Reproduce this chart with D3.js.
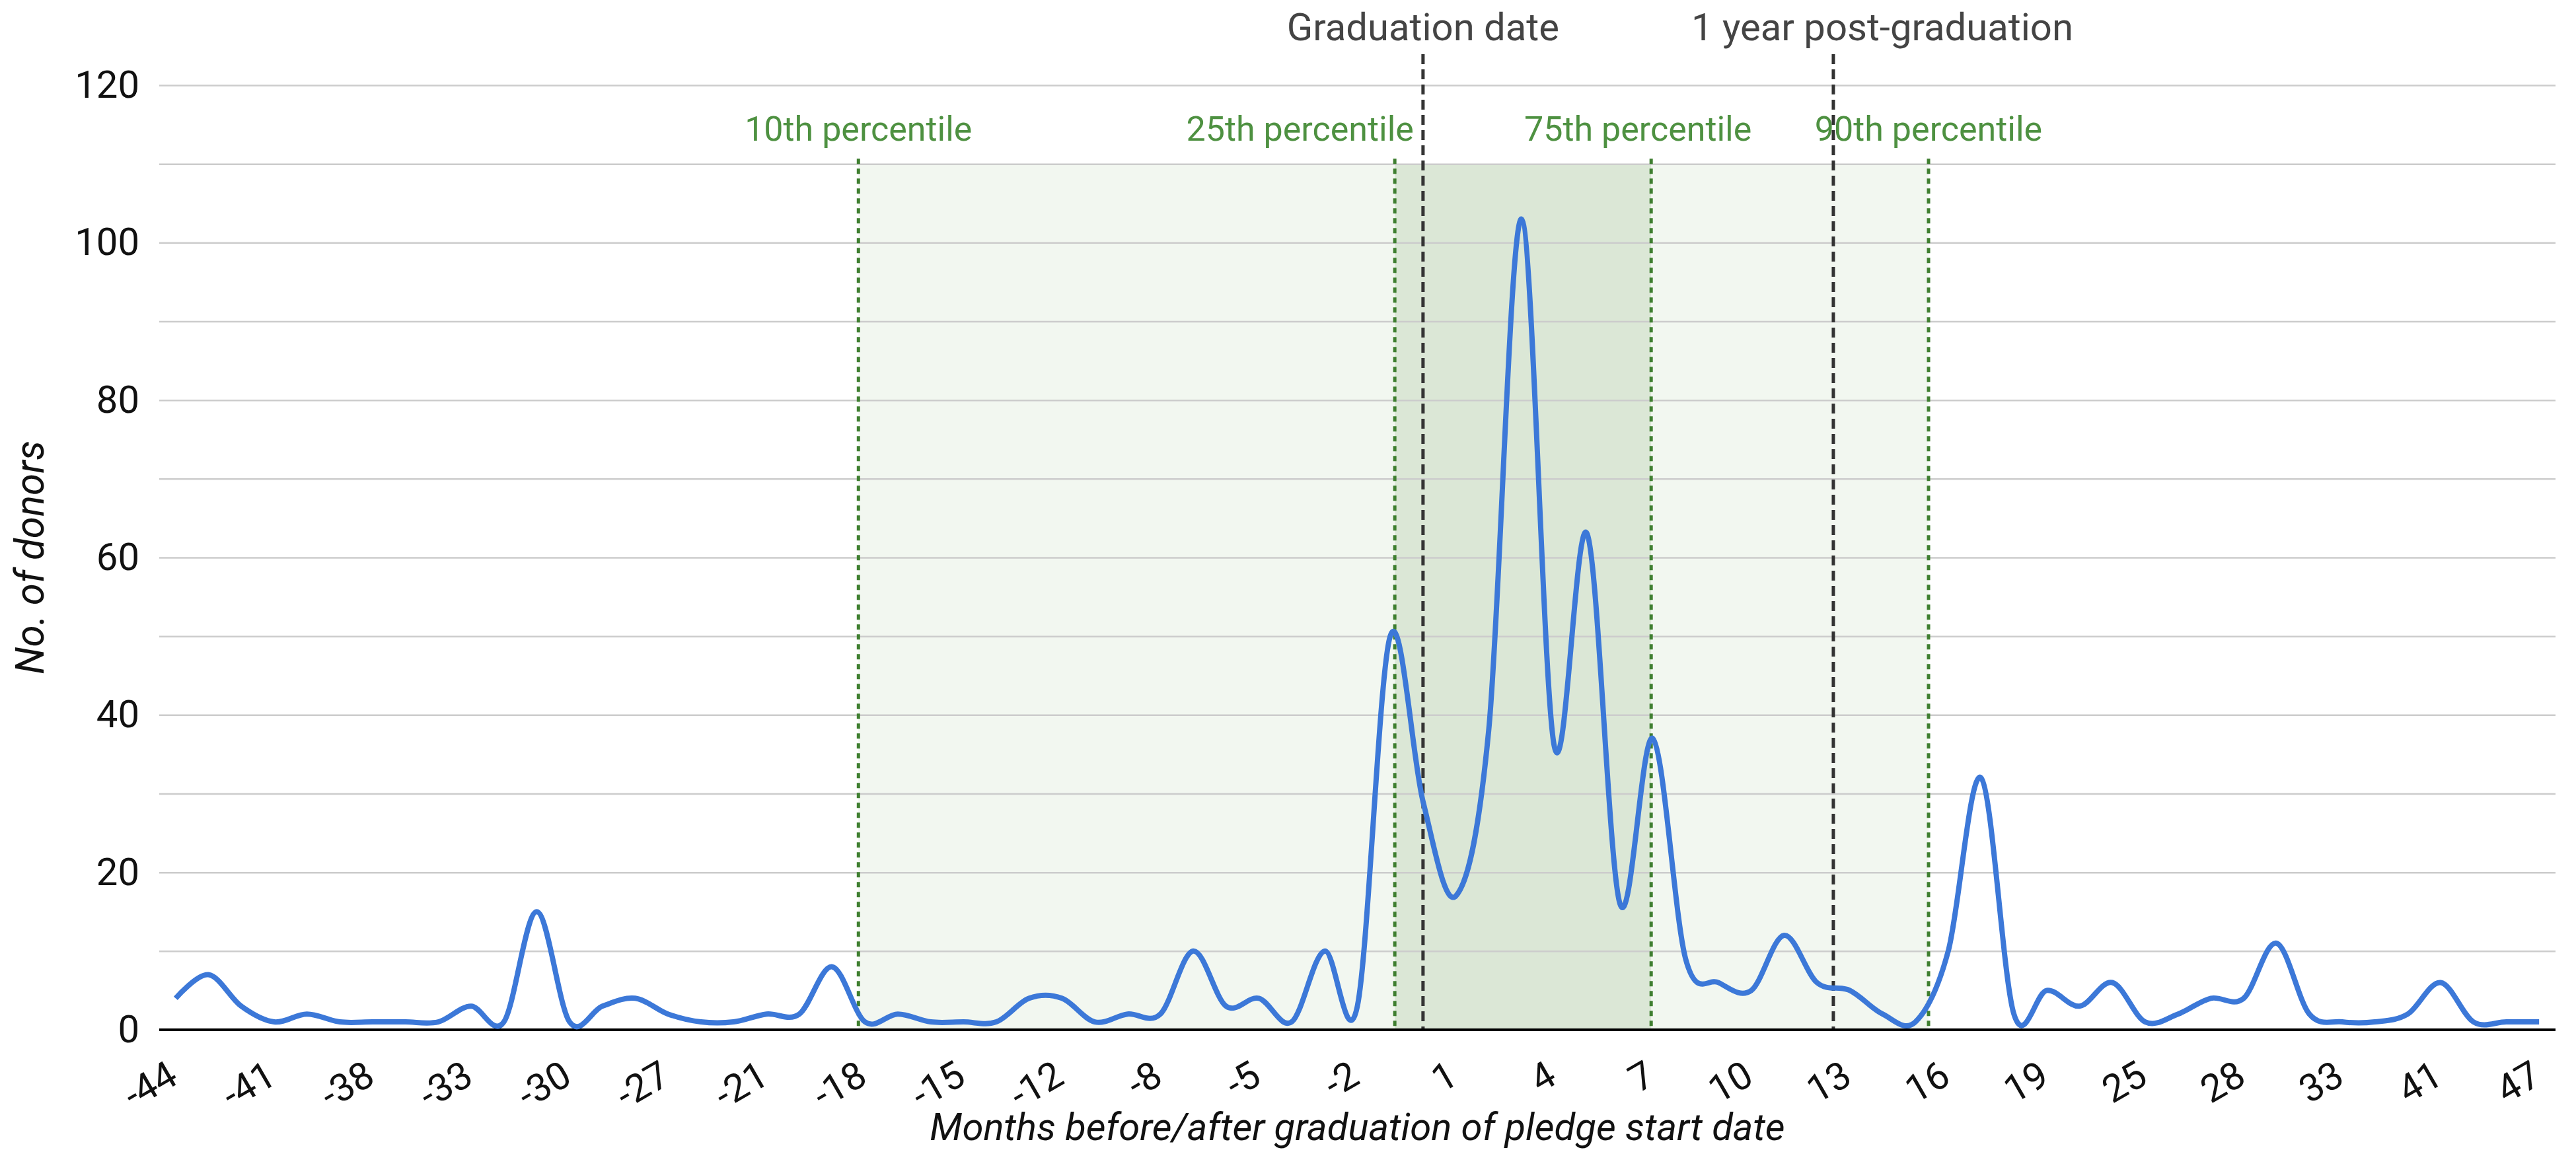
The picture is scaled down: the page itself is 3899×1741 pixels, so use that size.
<!DOCTYPE html>
<html><head><meta charset="utf-8">
<script src="https://cdn.jsdelivr.net/npm/d3@7"></script>
<style>body{margin:0;background:#fff} text{font-family:Roboto,"Noto Sans",sans-serif}</style>
</head><body><svg id="c" width="3899" height="1741"></svg>
<script>
// ---- data ----
const months = [-44,-43,-42,-41,-40,-39,-38,-36,-35,-33,-32,-31,-30,-29,-28,-27,-25,-23,-21,-20,-19,-18,-17,-16,-15,-14,-13,-12,-11,-10,-8,-7,-6,-5,-4,-3,-2,-1,0,1,2,3,4,5,6,7,8,9,10,11,12,13,14,15,16,17,18,19,21,22,25,26,27,28,30,31,33,35,38,41,43,45,47];
const donors = [4,7,3,1,2,1,1,1,1,3, 1,15,1,3,4,2,1,1,2,2, 8,1,2,1,1,1,4,4,1,2, 2,10,3,4,1,10,3,50,29,17, 38,103,36,63,16,37,9,6,5,12, 6,5,2,1,10,32,2,5,3,6, 1,2,4,4,11,2,1,1,2,6, 1,1,1];
const yTickValues = [0,20,40,60,80,100,120];
const gridValues = [10,20,30,40,50,60,70,80,90,100,110,120];
const percentileLabels = ["10th percentile","25th percentile","75th percentile","90th percentile"];
const percentileMonths = [-18.2,-0.86,6.95,15.4];
const milestoneLabels = ["Graduation date","1 year post-graduation"];
const milestoneMonths = [0,12.5];
const bandTopValue = 110;
const xTitle = "Months before/after graduation of pledge start date";
const yTitle = "No. of donors";

// ---- layout ----
const L=241, R=3868, T=129, B=1559;
const svg = d3.select("#c");
const idx = d3.range(months.length);
const x = d3.scalePoint().domain(idx).range([L,R]).padding(0.5);
const y = d3.scaleLinear().domain([0,120]).range([B,T]);
function xm(m){
  let j=0; while(j<months.length-2 && months[j+1]<=m) j++;
  const f=(m-months[j])/(months[j+1]-months[j]);
  return x(j)+f*x.step();
}
const px = percentileMonths.map(xm);
const mx = milestoneMonths.map(xm);

// shading
svg.append("rect").attr("x",px[0]).attr("y",y(bandTopValue)).attr("width",px[3]-px[0]).attr("height",B-y(bandTopValue)).attr("fill","#f2f7f0");
svg.append("rect").attr("x",px[1]).attr("y",y(bandTopValue)).attr("width",px[2]-px[1]).attr("height",B-y(bandTopValue)).attr("fill","#dbe7d6");

// gridlines
const grid = svg.append("g").attr("transform",`translate(${L},0)`)
  .call(d3.axisLeft(y).tickValues(gridValues).tickSize(-(R-L)).tickFormat(""));
grid.select(".domain").remove();
grid.selectAll("line").attr("stroke","#cccccc").attr("stroke-width",2.5);

// y axis labels
const ya = svg.append("g").attr("transform",`translate(${L},0)`)
  .call(d3.axisLeft(y).tickValues(yTickValues).tickSize(0).tickPadding(30));
ya.select(".domain").remove();
ya.selectAll("text").attr("font-size",58).attr("fill","#111").attr("font-family","Roboto");

// percentile lines
svg.append("g").selectAll("line").data(px).join("line")
  .attr("x1",d=>d).attr("x2",d=>d).attr("y1",y(bandTopValue)-8).attr("y2",B)
  .attr("stroke","#3f7f30").attr("stroke-width",5).attr("stroke-dasharray","8,7");
const pdx = [0,0,-20,0];
svg.append("g").selectAll("text").data(percentileLabels).join("text")
  .attr("x",(d,i)=> i===1 ? mx[0]-14 : px[i]+pdx[i])
  .attr("y",213).attr("text-anchor",(d,i)=> i===1 ? "end" : "middle")
  .attr("font-size",52).attr("fill","#4e9141").text(d=>d);

// milestone lines
svg.append("g").selectAll("line").data(mx).join("line")
  .attr("x1",d=>d).attr("x2",d=>d).attr("y1",82).attr("y2",B)
  .attr("stroke","#333").attr("stroke-width",5).attr("stroke-dasharray","15,8");
svg.append("g").selectAll("text").data(milestoneLabels).join("text")
  .attr("x",(d,i)=> mx[i] + (i===1 ? 74 : 0)).attr("y",61).attr("text-anchor","middle")
  .attr("font-size",58).attr("fill","#444").text(d=>d);

// baseline
svg.append("line").attr("x1",L).attr("x2",R).attr("y1",B).attr("y2",B).attr("stroke","#000").attr("stroke-width",4);

// x axis labels
const xa = svg.append("g").attr("transform",`translate(0,${B})`)
  .call(d3.axisBottom(x).tickValues(idx.filter(i=>i%3===0)).tickFormat(i=>months[i]).tickSize(0));
xa.select(".domain").remove();
xa.selectAll("text").attr("y",0).attr("dy",0).attr("text-anchor","end")
  .attr("transform","translate(6,80) rotate(-30)").attr("font-size",58).attr("fill","#111").attr("font-family","Roboto");

// line
svg.append("clipPath").attr("id","clip").append("rect").attr("x",L).attr("y",0).attr("width",R-L).attr("height",B+3);
svg.append("path").datum(donors).attr("clip-path","url(#clip)")
  .attr("d",d3.line().x((d,i)=>x(i)).y(d=>y(d)).curve(d3.curveCardinal.tension(0)))
  .attr("fill","none").attr("stroke","#3c78d8").attr("stroke-width",8).attr("stroke-linejoin","round");

// titles
svg.append("text").attr("x",(L+R)/2).attr("y",1726).attr("text-anchor","middle")
  .attr("font-size",58).attr("font-style","italic").attr("fill","#111").text(xTitle);
svg.append("text").attr("transform",`translate(66,${(T+B)/2}) rotate(-90)`).attr("text-anchor","middle")
  .attr("font-size",60).attr("font-style","italic").attr("fill","#111").text(yTitle);
</script></body></html>
